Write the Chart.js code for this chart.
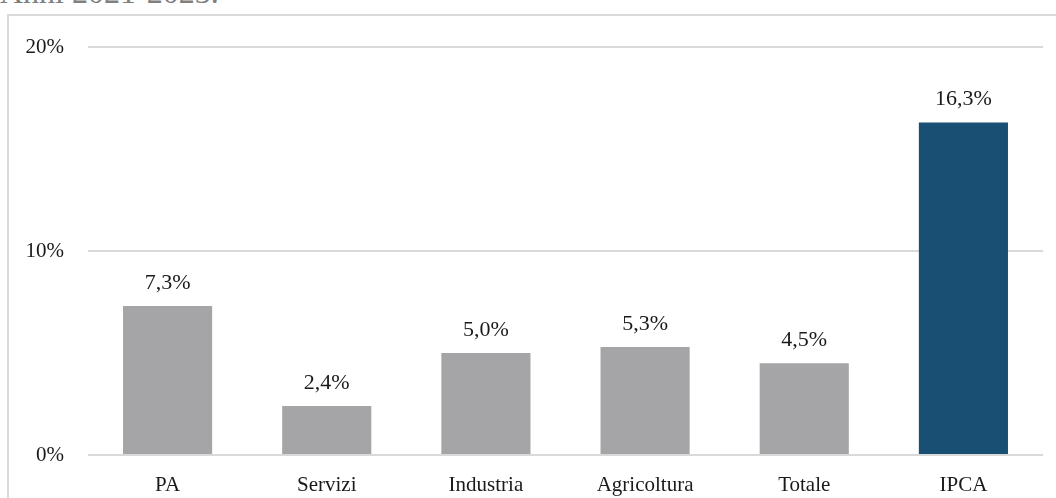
<!DOCTYPE html>
<html>
<head>
<meta charset="utf-8">
<script src="https://cdn.jsdelivr.net/npm/chart.js@4.4.1/dist/chart.umd.min.js"></script>
<style>
  html, body { margin: 0; padding: 0; background: #ffffff; overflow: hidden; }
  #wrap { position: relative; width: 1056px; height: 498px; overflow: hidden; }
  #title {
    position: absolute; left: 0; top: -25px;
    font-family: "Liberation Serif", serif; font-size: 32px; color: #7f7f7f;
    white-space: nowrap; line-height: 34px;
  }
  #box {
    position: absolute; left: 7px; top: 14px; width: 1080px; height: 520px;
    border: 2px solid #dadada; box-sizing: border-box;
  }
  #chart { position: absolute; left: 0; top: 0; }
</style>
</head>
<body>
<div id="wrap">
  <div id="title">Anni 2021-2023.</div>
  <div id="box"></div>
  <canvas id="chart" width="1056" height="498"></canvas>
</div>
<script>
const categories = ["PA", "Servizi", "Industria", "Agricoltura", "Totale", "IPCA"];
const values = [7.3, 2.4, 5.0, 5.3, 4.5, 16.3];
const barColors = ["#a5a5a8", "#a5a5a8", "#a5a5a8", "#a5a5a8", "#a5a5a8", "#1a4f74"];
const yTicks = [0, 10, 20];

const serif = "'Liberation Serif', 'Times New Roman', serif";

// value labels above the bars
const valueLabels = {
  id: "valueLabels",
  afterDatasetsDraw(chart) {
    const ctx = chart.ctx;
    const meta = chart.getDatasetMeta(0);
    ctx.save();
    ctx.font = "22px " + serif;
    ctx.fillStyle = "#1a1a1a";
    ctx.textAlign = "center";
    ctx.textBaseline = "alphabetic";
    meta.data.forEach((bar, i) => {
      const txt = values[i].toFixed(1).replace(".", ",") + "%";
      ctx.fillText(txt, bar.x, bar.y - 17);
    });
    ctx.restore();
  }
};

new Chart(document.getElementById("chart").getContext("2d"), {
  type: "bar",
  data: {
    labels: categories,
    datasets: [{
      data: values,
      backgroundColor: barColors,
      borderWidth: 0,
      barPercentage: 0.56,
      categoryPercentage: 1
    }]
  },
  options: {
    responsive: false,
    animation: false,
    layout: { padding: { left: 0, right: 13, top: 47, bottom: 0 } },
    plugins: {
      legend: { display: false },
      tooltip: { enabled: false }
    },
    scales: {
      x: {
        grid: { display: false, drawTicks: false },
        border: { display: false },
        ticks: {
          color: "#1a1a1a",
          font: { family: serif, size: 21 },
          padding: 18
        },
        afterFit(scale) { scale.height = 43; }
      },
      y: {
        min: 0,
        max: 20,
        afterBuildTicks(scale) {
          scale.ticks = yTicks.map(v => ({ value: v }));
        },
        grid: { color: "#d9d9d9", lineWidth: 2, drawTicks: false },
        border: { display: false },
        ticks: {
          color: "#1a1a1a",
          font: { family: serif, size: 21 },
          padding: 24,
          callback: v => v + "%"
        },
        afterFit(scale) { scale.width = 88; }
      }
    }
  },
  plugins: [valueLabels]
});
</script>
</body>
</html>
